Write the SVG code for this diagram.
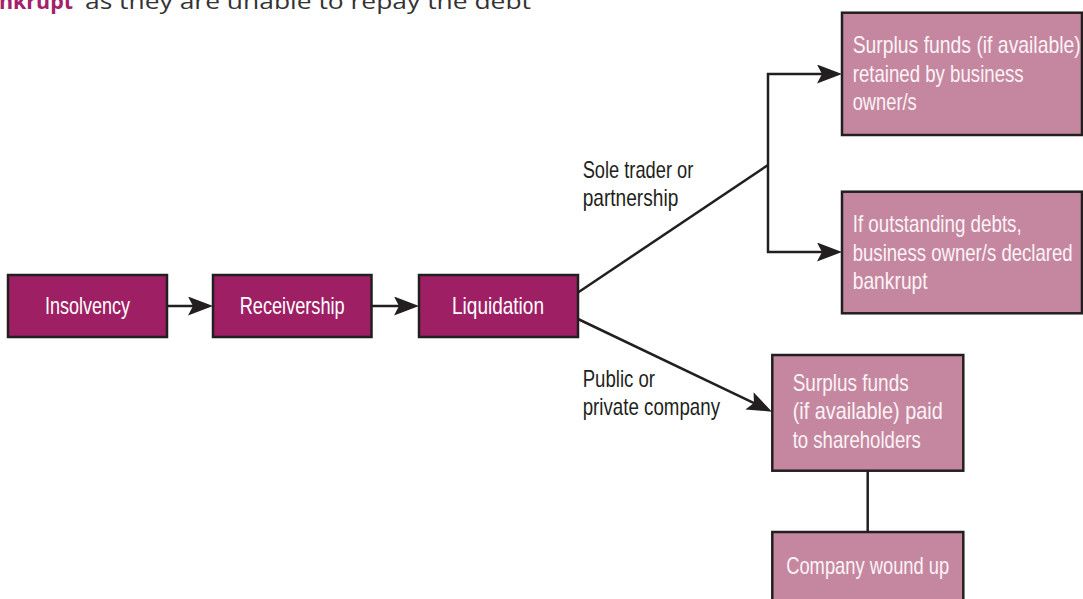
<svg xmlns="http://www.w3.org/2000/svg" width="1083" height="599" viewBox="0 0 1083 599">
  <style>
    .main { fill: #9e1f63; stroke: #231f20; stroke-width: 2.5; }
    .sub { fill: #c5879f; stroke: #231f20; stroke-width: 2.5; }
    .lbl { font-family: "Liberation Sans", Arial, sans-serif; font-size: 24px; }
    .w { fill: #ffffff; }
    .wp { fill: #fbf3f6; }
    .dk { fill: #231f20; }
    .wire { fill: none; stroke: #231f20; stroke-width: 2.5; }
    .head { font-family: "Open Sans", "Liberation Sans", sans-serif; font-size: 22px; }
  </style>
  <defs>
    <marker id="arrow" markerUnits="userSpaceOnUse" markerWidth="26" markerHeight="20" refX="20" refY="9.5" orient="auto">
      <path d="M0,0 L25,9.5 L0,19 L5,9.5 Z" fill="#231f20"/>
    </marker>
  </defs>

  <rect width="1083" height="599" fill="#ffffff"/>

  <!-- running text from the page above -->
  <g id="heading">
    <text class="head" x="-1" y="9" textLength="74" lengthAdjust="spacingAndGlyphs" font-weight="bold" fill="#a3206a">nkrupt</text>
    <text class="head" x="85" y="9" textLength="446" lengthAdjust="spacingAndGlyphs" fill="#333333">as they are unable to repay the debt</text>
  </g>

  <!-- connectors -->
  <g id="connectors">
    <line class="wire" x1="167" y1="306" x2="208" y2="306" marker-end="url(#arrow)"/>
    <line class="wire" x1="371.5" y1="306" x2="414" y2="306" marker-end="url(#arrow)"/>
    <line class="wire" x1="578" y1="292.5" x2="768" y2="165"/>
    <polyline class="wire" points="837,74 768,74 768,252 837,252"/>
    <path class="wire" d="M830,74 L837,74" marker-end="url(#arrow)"/>
    <path class="wire" d="M830,252 L837,252" marker-end="url(#arrow)"/>
    <line class="wire" x1="578" y1="319" x2="767.5" y2="409.5" marker-end="url(#arrow)"/>
    <line class="wire" x1="867.7" y1="471" x2="867.7" y2="532"/>
    <text class="lbl dk" x="582.7" y="178" textLength="110.6" lengthAdjust="spacingAndGlyphs">Sole trader or</text>
    <text class="lbl dk" x="582.7" y="205.5" textLength="95.6" lengthAdjust="spacingAndGlyphs">partnership</text>
    <text class="lbl dk" x="582.7" y="387" textLength="72.3" lengthAdjust="spacingAndGlyphs">Public or</text>
    <text class="lbl dk" x="582.7" y="415" textLength="137.3" lengthAdjust="spacingAndGlyphs">private company</text>
  </g>

  <!-- stages -->
  <g id="insolvency">
    <rect class="main" x="8" y="275" width="159" height="62"/>
    <text class="lbl w" x="87.5" y="314" text-anchor="middle" textLength="85" lengthAdjust="spacingAndGlyphs">Insolvency</text>
  </g>
  <g id="receivership">
    <rect class="main" x="213" y="275" width="158.5" height="62"/>
    <text class="lbl w" x="292.2" y="314" text-anchor="middle" textLength="105" lengthAdjust="spacingAndGlyphs">Receivership</text>
  </g>
  <g id="liquidation">
    <rect class="main" x="419" y="275" width="159" height="62"/>
    <text class="lbl w" x="498" y="314" text-anchor="middle" textLength="92" lengthAdjust="spacingAndGlyphs">Liquidation</text>
  </g>

  <!-- outcomes -->
  <g id="surplus-owner">
    <rect class="sub" x="842" y="12.7" width="240" height="122.3"/>
    <text class="lbl wp" x="852.7" y="53" textLength="228" lengthAdjust="spacingAndGlyphs">Surplus funds (if available)</text>
    <text class="lbl wp" x="852.7" y="81.5" textLength="171" lengthAdjust="spacingAndGlyphs">retained by business</text>
    <text class="lbl wp" x="852.7" y="110" textLength="64" lengthAdjust="spacingAndGlyphs">owner/s</text>
  </g>
  <g id="bankrupt">
    <rect class="sub" x="842" y="191.7" width="240" height="121.6"/>
    <text class="lbl wp" x="852.7" y="232" textLength="169" lengthAdjust="spacingAndGlyphs">If outstanding debts,</text>
    <text class="lbl wp" x="852.7" y="260.5" textLength="220" lengthAdjust="spacingAndGlyphs">business owner/s declared</text>
    <text class="lbl wp" x="852.7" y="289" textLength="75" lengthAdjust="spacingAndGlyphs">bankrupt</text>
  </g>
  <g id="surplus-shareholders">
    <rect class="sub" x="772.3" y="355" width="191" height="115.7"/>
    <text class="lbl wp" x="792.7" y="391" textLength="116" lengthAdjust="spacingAndGlyphs">Surplus funds</text>
    <text class="lbl wp" x="792.7" y="419" textLength="150" lengthAdjust="spacingAndGlyphs">(if available) paid</text>
    <text class="lbl wp" x="792.7" y="448" textLength="128" lengthAdjust="spacingAndGlyphs">to shareholders</text>
  </g>
  <g id="wound-up">
    <rect class="sub" x="772.3" y="532" width="191" height="90"/>
    <text class="lbl wp" x="867.7" y="574" text-anchor="middle" textLength="163" lengthAdjust="spacingAndGlyphs">Company wound up</text>
  </g>
</svg>
